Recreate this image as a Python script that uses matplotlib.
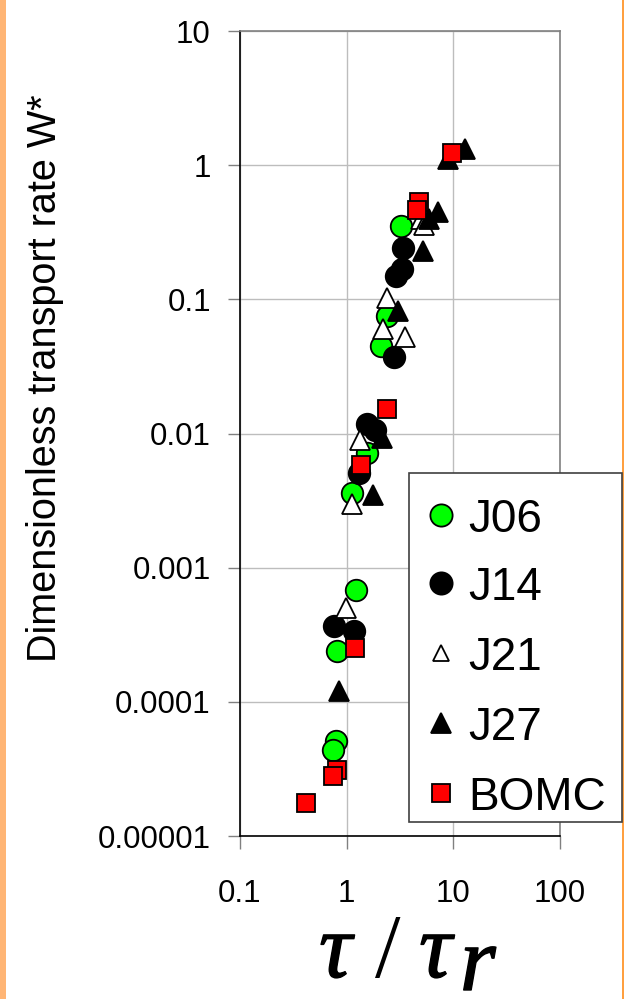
import matplotlib
matplotlib.use("Agg")
import matplotlib.pyplot as plt
from matplotlib.patches import Rectangle
from matplotlib.lines import Line2D
import matplotlib.patheffects as pe

plt.rcParams['font.family'] = ['Liberation Sans', 'DejaVu Sans']

# ---- data (tau/tau_r, W*) ----
j06_x = [3.2, 2.4, 2.1, 1.56, 1.13, 1.22, 0.82, 0.80, 0.74]
j06_y = [0.35, 0.075, 0.045, 0.0072, 0.0036, 0.00068, 0.00024, 0.000051, 0.000044]

j14_x = [3.4, 3.3, 2.9, 2.8, 1.56, 1.86, 1.30, 0.76, 1.16]
j14_y = [0.24, 0.168, 0.149, 0.037, 0.0117, 0.0107, 0.0051, 0.00037, 0.00034]

j21_x = [5.0, 5.3, 2.4, 2.2, 3.5, 1.33, 1.13, 0.98]
j21_y = [0.40, 0.36, 0.103, 0.060, 0.052, 0.0090, 0.0030, 0.0005]

j27_x = [13.0, 8.9, 7.2, 5.9, 5.2, 3.05, 2.15, 1.75, 0.84]
j27_y = [1.33, 1.12, 0.445, 0.40, 0.23, 0.082, 0.0093, 0.0035, 0.000121]

bomc_x = [9.8, 4.75, 4.55, 2.4, 1.37, 1.21, 0.81, 0.74, 0.42]
bomc_y = [1.23, 0.53, 0.46, 0.0152, 0.0058, 0.00025, 0.000031, 0.000028, 0.0000176]

series_names = ['J06', 'J14', 'J21', 'J27', 'BOMC']
xticks = [0.1, 1, 10, 100]
xtick_labels = ['0.1', '1', '10', '100']
yticks = [0.00001, 0.0001, 0.001, 0.01, 0.1, 1, 10]
ytick_labels = ['0.00001', '0.0001', '0.001', '0.01', '0.1', '1', '10']

W, H = 627, 999
fig = plt.figure(figsize=(W / 100, H / 100), dpi=100)
fig.patch.set_facecolor('white')


def fx(px):
    return px / W


def fy(py):
    return 1 - py / H


# orange frame edges
fig.patches.append(Rectangle((0, 0), fx(6), 1, transform=fig.transFigure,
                             facecolor='#FFB575', edgecolor='none'))
fig.patches.append(Rectangle((fx(622), 0), fx(2), 1, transform=fig.transFigure,
                             facecolor='#FFA040', edgecolor='none'))

ax = fig.add_axes([fx(240), fy(836), 320 / W, 805 / H])
ax.set_xscale('log')
ax.set_yscale('log')
ax.set_xlim(0.1, 100)
ax.set_ylim(0.00001, 10)

ax.set_xticks(xticks)
ax.set_xticklabels(xtick_labels)
ax.set_yticks(yticks)
ax.set_yticklabels(ytick_labels)
ax.minorticks_off()
ax.tick_params(axis='both', which='major', labelsize=22.5, length=9,
               width=1, color='#808080', direction='out')
ax.tick_params(axis='x', pad=22)
ax.tick_params(axis='y', pad=12)

ax.grid(True, which='major', color='#BDBDBD', linewidth=1)
ax.set_axisbelow(True)
for s in ['top', 'right']:
    ax.spines[s].set_color('#808080')
    ax.spines[s].set_linewidth(1.2)
for s in ['left', 'bottom']:
    ax.spines[s].set_color('black')
    ax.spines[s].set_linewidth(1.2)

ms = 15.5
ax.plot(j06_x, j06_y, 'o', ms=ms, mfc='#00FF00', mec='black', mew=1.3, ls='none')
ax.plot(j14_x, j14_y, 'o', ms=ms, mfc='black', mec='black', mew=1.3, ls='none')
ax.plot(j21_x, j21_y, '^', ms=14, mfc='white', mec='black', mew=1.3, ls='none')
ax.plot(j27_x, j27_y, '^', ms=14, mfc='black', mec='black', mew=1.3, ls='none')
ax.plot(bomc_x, bomc_y, 's', ms=13, mfc='#FF0000', mec='black', mew=1.3, ls='none')

# y label
fig.text(fx(45), fy(378), 'Dimensionless transport rate W*', fontsize=28.5,
         rotation=90, ha='center', va='center')

# x label: tau / tau_r (Times-like italic, medium weight)
serif = ['Liberation Serif', 'DejaVu Serif']
heavy = [pe.withStroke(linewidth=1.0, foreground='black')]
fig.text(fx(319), fy(977), 'τ', fontsize=66, family=serif, style='italic',
         ha='left', va='baseline', path_effects=heavy)
fig.text(fx(388), fy(977), '/', fontsize=66, family=serif,
         ha='center', va='baseline')
fig.text(fx(419), fy(977), 'τ', fontsize=66, family=serif, style='italic',
         ha='left', va='baseline', path_effects=heavy)
fig.text(fx(460), fy(990), 'r', fontsize=66, family=serif, style='italic',
         ha='left', va='baseline', path_effects=heavy)

# legend (drawn manually to match the box)
fig.patches.append(Rectangle((fx(409), fy(822)), 213 / W, 349 / H,
                             transform=fig.transFigure, facecolor='white',
                             edgecolor='#404040', linewidth=1.2, zorder=5))
row_y = [515, 583, 653, 723, 793]
leg_style = [
    dict(marker='o', ms=16, mfc='#00FF00'),
    dict(marker='o', ms=16, mfc='black'),
    dict(marker='^', ms=12, mfc='white'),
    dict(marker='^', ms=14, mfc='black'),
    dict(marker='s', ms=13, mfc='#FF0000'),
]
for name, yy, st in zip(series_names, row_y, leg_style):
    ln = Line2D([fx(441)], [fy(yy)], transform=fig.transFigure, ls='none',
                mec='black', mew=1.3, zorder=6, **st)
    fig.add_artist(ln)
    fig.text(fx(468), fy(yy + 16.5), name, fontsize=33, ha='left',
             va='baseline', zorder=6)

fig.savefig('out.png', dpi=100, facecolor='white')
